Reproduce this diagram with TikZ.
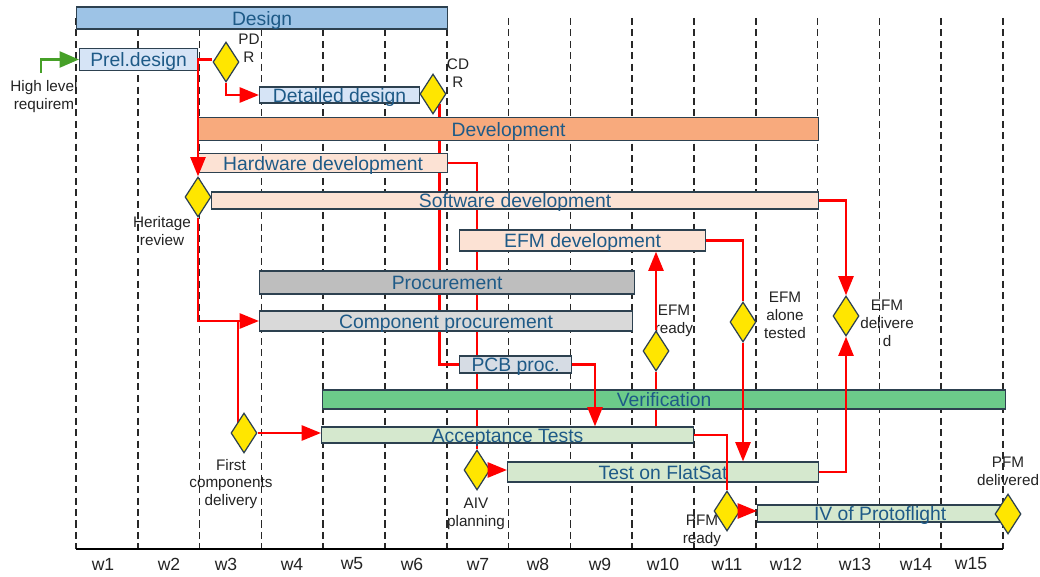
\documentclass[tikz,border=0pt]{standalone}
\usepackage{fontspec}
\setmainfont{Liberation Sans}
\usetikzlibrary{shapes.geometric, arrows.meta}
\pgfdeclarelayer{background}
\pgfsetlayers{background,main}

\definecolor{barline}{RGB}{45,65,80}
\definecolor{bartext}{RGB}{30,90,135}
\definecolor{lbltext}{RGB}{35,35,35}
\definecolor{gridgray}{RGB}{40,40,40}
\definecolor{designblue}{RGB}{157,195,230}
\definecolor{paleblue}{RGB}{214,228,246}
\definecolor{devorange}{RGB}{248,170,125}
\definecolor{peach}{RGB}{252,226,212}
\definecolor{procgray}{RGB}{190,190,190}
\definecolor{palegray}{RGB}{217,217,217}
\definecolor{pcbgray}{RGB}{214,220,228}
\definecolor{verifgreen}{RGB}{108,203,138}
\definecolor{palegreen}{RGB}{213,232,206}
\definecolor{msyellow}{RGB}{255,230,0}
\definecolor{reqgreen}{RGB}{70,160,40}

\begin{document}
\begin{tikzpicture}[x=0.02cm, y=-0.02cm,
    bar/.style={draw=barline, line width=0.7pt, anchor=west, inner sep=0pt,
        text=bartext, font=\fontsize{11}{13}\selectfont, text height=8pt, text depth=0pt},
    milestone/.style={diamond, draw=barline, fill=msyellow, line width=0.7pt,
        inner sep=0pt, minimum width=0.52cm, minimum height=0.8cm},
    lbl/.style={align=center, text=lbltext, inner sep=0pt,
        font=\fontsize{8.7}{10.2}\selectfont},
    week/.style={text=lbltext, font=\fontsize{10}{12}\selectfont},
    gridline/.style={draw=gridgray, line width=0.9pt, dash pattern=on 4pt off 2.5pt},
    link/.style={draw=red, line width=1.6pt},
    linkarrow/.style={link, -{Triangle[length=11pt, width=8.5pt]}},
    reqarrow/.style={draw=reqgreen, line width=1.6pt, -{Triangle[length=11pt, width=9pt]}}
]
    \useasboundingbox (0,0) rectangle (1040,577);

    % === Bars ===
    \node[bar, fill=designblue, minimum width=7.42cm, minimum height=0.44cm] (design) at (76,18) {Design};
    \node[bar, fill=paleblue, minimum width=2.36cm, minimum height=0.44cm] (preldesign) at (79,59.5) {Prel.design};
    \node[bar, fill=paleblue, minimum width=3.2cm, minimum height=0.32cm] (detdesign) at (259,95) {Detailed design};
    \node[bar, fill=devorange, minimum width=12.4cm, minimum height=0.46cm] (devel) at (198,129) {Development};
    \node[bar, fill=peach, minimum width=4.98cm, minimum height=0.38cm] (hwdev) at (198,163) {Hardware development};
    \node[bar, fill=peach, minimum width=12.14cm, minimum height=0.34cm] (swdev) at (211,200.5) {Software development};
    \node[bar, fill=peach, minimum width=4.92cm, minimum height=0.42cm] (efmdev) at (459,240.5) {EFM development};
    \node[bar, fill=procgray, minimum width=7.5cm, minimum height=0.46cm] (procure) at (259,282.5) {Procurement};
    \node[bar, fill=palegray, minimum width=7.46cm, minimum height=0.4cm] (compproc) at (259,321) {Component procurement};
    \node[bar, fill=pcbgray, minimum width=2.24cm, minimum height=0.34cm] (pcb) at (459,364.5) {PCB proc.};
    \node[bar, fill=verifgreen, minimum width=13.66cm, minimum height=0.38cm] (verif) at (322,399.5) {Verification};
    \node[bar, fill=palegreen, minimum width=7.44cm, minimum height=0.32cm] (acctest) at (321,435) {Acceptance Tests};
    \node[bar, fill=palegreen, minimum width=6.22cm, minimum height=0.4cm] (flatsat) at (507,472) {Test on FlatSat};
    \node[bar, fill=palegreen, minimum width=4.9cm, minimum height=0.34cm] (ivproto) at (757,513.5) {IV of Protoflight};

    % === Milestone labels ===
    \node[lbl] (pdrlbl) at (249,48) {PD\\R};
    \node[lbl] (cdrlbl) at (458,73) {CD\\R};
    \node[lbl] (herlbl) at (162,231) {Heritage\\review};
    \node[lbl] (efmrdylbl) at (674,321) {EFM\\ready};
    \node[lbl] (efmalnlbl) at (785,315) {EFM\\alone\\tested};
    \node[lbl] (efmdellbl) at (887,323) {EFM\\delivere\\d};
    \node[lbl] (fcdlbl) at (231,484) {First\\components\\delivery};
    \node[lbl] (aivlbl) at (476,514) {AIV\\planning};
    \node[lbl] (pfmrdylbl) at (702,531) {PFM\\ready};
    \node[lbl] (pfmdellbl) at (1008,471) {PFM\\delivered};
    \node[lbl] (hlrlbl) at (44,97) {High level\\requirem};

    % === Milestones ===
    \node[milestone] (pdr) at (226,62) {};
    \node[milestone] (cdr) at (433,94) {};
    \node[milestone] (heritage) at (198,197) {};
    \node[milestone] (efmready) at (656,351) {};
    \node[milestone] (efmalone) at (743,322) {};
    \node[milestone] (efmdeliv) at (846,316) {};
    \node[milestone] (firstcomp) at (244,433) {};
    \node[milestone] (aiv) at (477,470) {};
    \node[milestone] (pfmready) at (727,511) {};
    \node[milestone] (pfmdeliv) at (1008,514) {};

    % === Week grid and axis ===
    \begin{pgfonlayer}{background}
        \foreach \i in {0,...,15}
            \draw[gridline] ({76+61.8*\i},18) -- ({76+61.8*\i},549);

        % links hidden behind the bars
        \coordinate (fcd) at (238,321);
        \draw[link] (preldesign.east) -- (preldesign.east -| pdr.west);
        \draw[link] (cdr.south east) |- (pcb.west);
        \draw[link] (hwdev.east) -| (aiv.north);
        \draw[link] (efmready.south) -- (efmready.south |- acctest.north);
        \draw[link] (fcd) -- (fcd |- firstcomp.center);
    \end{pgfonlayer}
    \draw[line width=1pt] (76,549) -- (1003,549);
    \foreach \x [count=\n] in {103,169,226,292,352,412,478,538,600,663,727,786,855,916,971}
        \node[week] (w\n) at (\x,564) {w\n};

    % === Links ===
    \coordinate (hlr) at (41,73);
    \draw[reqarrow] (hlr) |- (preldesign.west);
    \draw[linkarrow] (preldesign.east) -| (heritage.north);
    \draw[linkarrow] (heritage.south) |- (compproc.west);
    \draw[linkarrow] (pdr.south) |- (detdesign.west);
    \draw[linkarrow] (aiv.east) -- (aiv.east -| flatsat.west);
    \draw[linkarrow] (firstcomp.east) -- (firstcomp.east -| acctest.west);

    \coordinate (pcbturn) at (595,364.5);
    \draw[linkarrow] (pcb.east) -- (pcbturn) -- (pcbturn |- acctest.north);
    \draw[linkarrow] (efmready.north) -- (efmready.north |- efmdev.south);
    \draw[link] (efmdev.east) -| (efmalone.north);
    \draw[linkarrow] (efmalone.south) -- (efmalone.south |- flatsat.north);
    \draw[linkarrow] (swdev.east) -| (efmdeliv.north);
    \draw[linkarrow] (flatsat.east) -| (efmdeliv.south);
    \draw[link] (acctest.east) -| (pfmready.north);
    \draw[linkarrow] (pfmready.east) -- (pfmready.east -| ivproto.west);

\end{tikzpicture}
\end{document}
